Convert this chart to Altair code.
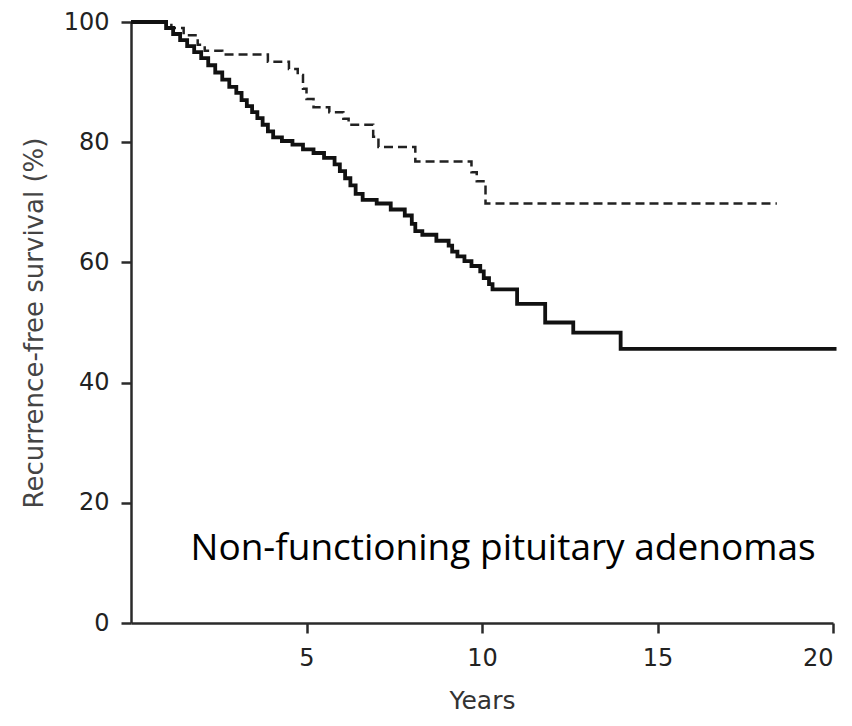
import altair as alt
import pandas as pd

# Kaplan-Meier step points (years, % recurrence-free)
solid_t = [0, 1.0, 1.2, 1.4, 1.6, 1.8, 2.0, 2.2, 2.4, 2.6, 2.8, 3.0, 3.15, 3.3, 3.45, 3.6,
           3.75, 3.9, 4.05, 4.3, 4.6, 4.9, 5.2, 5.5, 5.8, 5.95, 6.1, 6.25, 6.4, 6.6, 7.0,
           7.4, 7.8, 8.0, 8.1, 8.3, 8.7, 9.05, 9.15, 9.3, 9.5, 9.7, 9.95, 10.05, 10.2, 10.3,
           11.0, 11.8, 12.6, 13.95, 20.1]
solid_v = [100, 99, 98, 97, 96, 95, 94, 92.8, 91.6, 90.4, 89.2, 88.2, 87, 86, 85, 84,
           82.9, 81.8, 80.8, 80.2, 79.6, 78.8, 78.2, 77.4, 76.3, 75.2, 74, 72.8, 71.4, 70.4, 69.8,
           68.8, 67.8, 66.4, 65.2, 64.6, 63.6, 62.8, 61.8, 61, 60.2, 59.4, 58.5, 57.4, 56.4, 55.5,
           53.1, 50.0, 48.3, 45.6, 45.6]

dash_t = [0, 1.15, 1.5, 1.9, 2.1, 2.6, 3.9, 4.5, 4.75, 4.9, 5.0, 5.2, 5.65, 6.05, 6.2,
          6.9, 7.05, 8.1, 9.7, 9.85, 10.1, 18.4]
dash_v = [100, 99, 97.8, 96.2, 95.2, 94.6, 93.4, 92.2, 91.2, 88.9, 87.2, 85.8, 85.0, 83.9, 82.9,
          80.9, 79.2, 76.8, 75.0, 73.5, 69.8, 69.8]

x_ticks = [5, 10, 15, 20]
y_ticks = [0, 20, 40, 60, 80, 100]

note_text = ["Non-functioning pituitary adenomas"]
note_x = [10.6]
note_y = [10.4]

solid = pd.DataFrame({"t": solid_t, "v": solid_v})
dashed = pd.DataFrame({"t": dash_t, "v": dash_v})
note = pd.DataFrame({"label": note_text, "t": note_x, "v": note_y})

x_scale = alt.Scale(domain=[0, 20], nice=False, zero=False)
y_scale = alt.Scale(domain=[0, 100], nice=False)

AX_FONT = "DejaVu Sans"
x_axis = alt.Axis(values=x_ticks, title="Years", grid=False, domainColor="#2a2a2a",
                  domainWidth=2.5, tickColor="#2a2a2a", tickWidth=2.5, tickSize=10,
                  labelFont=AX_FONT, labelFontSize=24, labelColor="#222",
                  labelPadding=13, titleFont=AX_FONT, titleFontSize=25,
                  titleFontWeight="normal", titleColor="#333", titlePadding=18)
y_axis = alt.Axis(values=y_ticks, title="Recurrence-free survival (%)", grid=False,
                  domainColor="#2a2a2a", domainWidth=2.5, tickColor="#2a2a2a", tickWidth=2.5,
                  tickSize=10, labelFont=AX_FONT, labelFontSize=24,
                  labelColor="#222", labelPadding=12, titleFont=AX_FONT,
                  titleFontSize=26, titleFontWeight="normal", titleColor="#444",
                  titlePadding=16)

x_enc = alt.X("t:Q", scale=x_scale, axis=x_axis)
y_enc = alt.Y("v:Q", scale=y_scale, axis=y_axis)

line_dash = alt.Chart(dashed).mark_line(
    interpolate="step-after", color="#222", strokeWidth=2.5, strokeDash=[9, 5]
).encode(x=x_enc, y=y_enc)

line_solid = alt.Chart(solid).mark_line(
    interpolate="step-after", color="#111", strokeWidth=3.8
).encode(x=x_enc, y=y_enc)

txt = alt.Chart(note).mark_text(
    font="Open Sans", fontSize=37, color="#000", align="center", baseline="alphabetic"
).encode(x=x_enc, y=y_enc, text="label:N")

chart = alt.layer(line_dash, line_solid, txt).properties(
    width=702, height=601,
    background="white",
    autosize=alt.AutoSizeParams(type="none"),
    padding={"left": 123, "top": 14, "right": 11, "bottom": 95},
).configure_view(stroke=None)

chart.save("out.html", embed_options={"renderer": "svg", "actions": False})
